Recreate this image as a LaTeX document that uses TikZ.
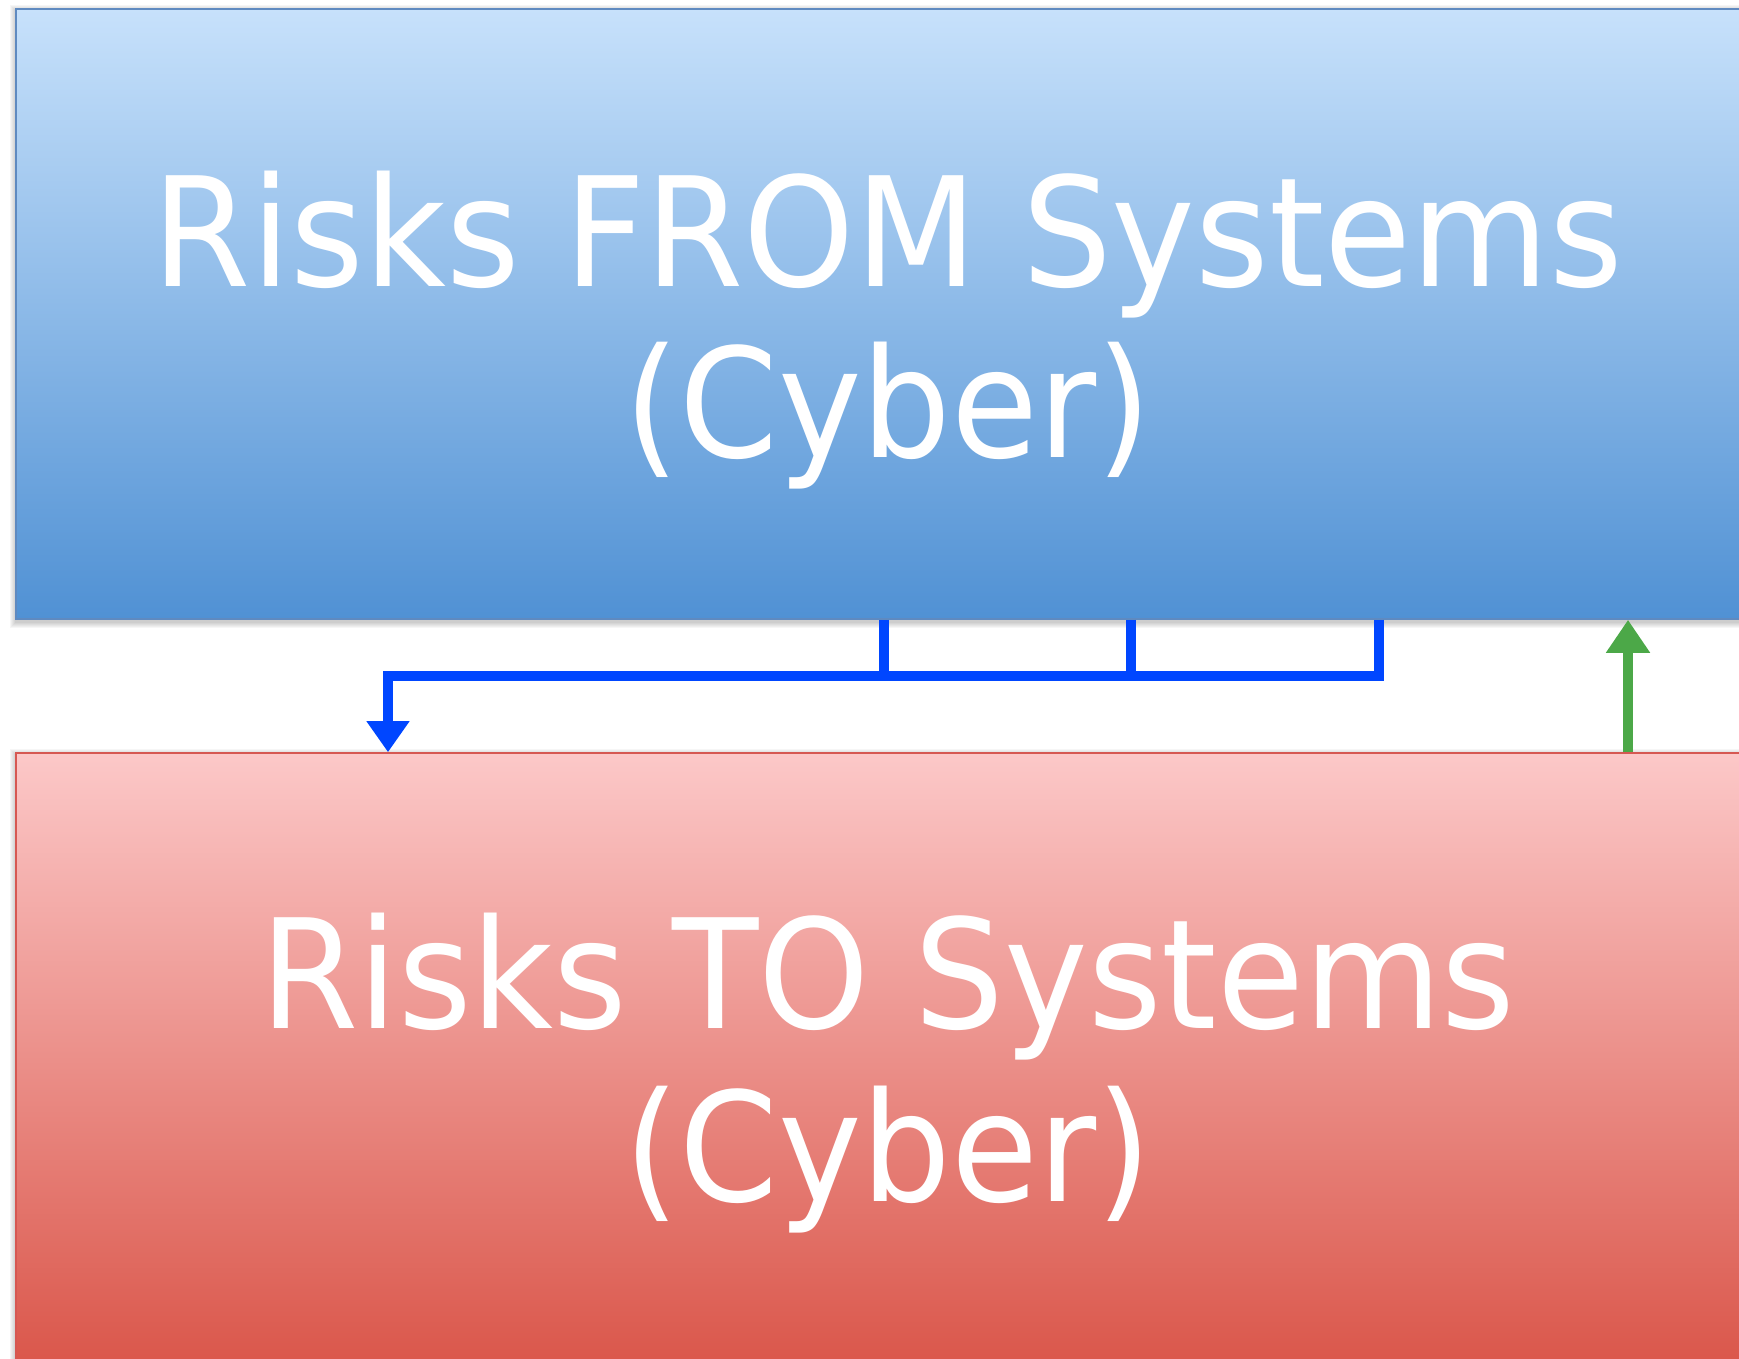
\documentclass[tikz,border=0pt]{standalone}
\usepackage{fontspec}
\setmainfont{DejaVu Sans}[FakeStretch=0.93]
\usetikzlibrary{arrows.meta}

\definecolor{fromtop}{RGB}{199,225,251}
\definecolor{frombot}{RGB}{80,145,212}
\definecolor{fromedge}{RGB}{95,138,192}
\definecolor{totop}{RGB}{252,200,200}
\definecolor{tobot}{RGB}{218,86,74}
\definecolor{toedge}{RGB}{214,88,82}
\definecolor{linkblue}{RGB}{0,70,255}
\definecolor{linkgreen}{RGB}{76,168,72}

\tikzset{
  riskbox/.style={rectangle, inner sep=0pt, line width=1.6pt},
  fromstyle/.style={riskbox, draw=fromedge, top color=fromtop, bottom color=frombot,
                    minimum width=1744pt, minimum height=610pt},
  tostyle/.style={riskbox, draw=toedge, top color=totop, bottom color=tobot,
                  minimum width=1744pt, minimum height=614pt},
  label/.style={anchor=base, inner sep=0pt, text=white,
                font=\fontsize{152}{171}\selectfont},
  bluelink/.style={draw=linkblue, line width=10pt, line join=miter},
  greenlink/.style={draw=linkgreen, line width=10pt},
}

\begin{document}
\begin{tikzpicture}[x=1pt,y=-1pt]
\useasboundingbox (0,0) rectangle (1739,1358);
\clip (0,0) rectangle (1739,1358);

% soft shadows behind both boxes
\foreach \s in {1,...,6}{
  \fill[black, opacity=0.035] (16-\s,9+2-\s) rectangle (1760+\s,619+3+\s);
  \fill[black, opacity=0.035] (16-\s,753+2-\s) rectangle (1760+\s,1367+3+\s);
}

% the two boxes
\node[fromstyle] (from) at (888,314) {};
\node[tostyle]   (to)   at (888,1060) {};

% box captions
\node[label] (fromA) at (888,286)  {Risks FROM Systems};
\node[label] (fromB) at (888,457)  {(Cyber)};
\node[label] (toA)   at (888,1028) {Risks TO Systems};
\node[label] (toB)   at (888,1201) {(Cyber)};

% blue collector: three drops joined into one arrow down
\coordinate (j1) at (884,676);
\coordinate (j2) at (1131,676);
\coordinate (j3) at (1379,676);
\coordinate (bend) at (388,676);
\draw[bluelink] (from.south -| j1) -- (j1);
\draw[bluelink] (from.south -| j2) -- (j2);
\draw[bluelink, -{Triangle[width=41pt,length=31pt]}]
  (from.south -| j3) -- (j3) -- (bend) -- (to.north -| bend);

% green feedback arrow up
\coordinate (g) at (1628,0);
\draw[greenlink, -{Triangle[width=42pt,length=33pt]}]
  (to.north -| g) -- (from.south -| g);
\end{tikzpicture}
\end{document}
